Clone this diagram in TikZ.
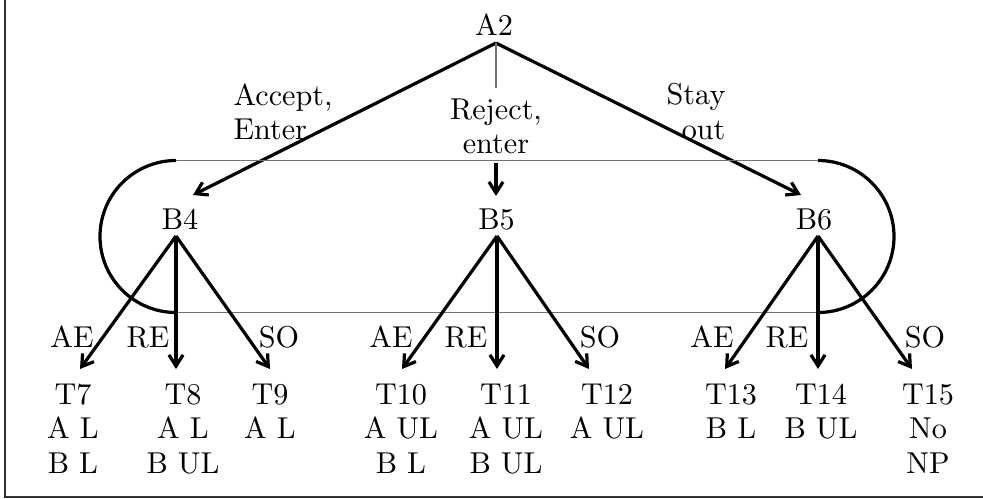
\documentclass[tikz,border=0pt]{standalone}
\usetikzlibrary{arrows.meta}
\begin{document}
\begin{tikzpicture}[x=0.3413pt,y=-0.3413pt,
  lbl/.style={inner sep=0pt, font=\fontsize{10.3}{11.8}\selectfont},
  blk/.style={lbl, align=center, anchor=north},
  arr/.style={line width=1.1pt, -{Straight Barb[length=3.8pt,width=4.8pt,line width=1.1pt]}},
  thin/.style={line width=0.5pt, draw=black!55},
  curve/.style={line width=1.1pt},
  frame/.style={line width=0.6pt, draw=black!80}]
\useasboundingbox (0,0) rectangle (983,499);
% frame
\coordinate (f1) at (5,0);
\coordinate (f2) at (5,497);
\coordinate (f3) at (983,497);
\draw[frame] (f1) -- (f2) -- (f3);
% top
\node[lbl, anchor=base] (a2) at (494,35) {A2};
\coordinate (pa) at (496,43);
\coordinate (pm) at (496,88);
\node[lbl, align=left, anchor=north west] (lac) at (233,83) {Accept,\\Enter};
\node[lbl, align=center, anchor=north] (lre) at (496,98) {Reject,\\enter};
\node[lbl, align=right, anchor=north east] (lso) at (726,83) {Stay\\out};
% B nodes
\node[lbl, anchor=base] (b4) at (180,229) {B4};
\node[lbl, anchor=base] (b5) at (496.5,229) {B5};
\node[lbl, anchor=base] (b6) at (814,229) {B6};
\coordinate (pb4) at (176,236);
\coordinate (pb5) at (497,236);
\coordinate (pb6) at (818,236);
\coordinate (tb4) at (193,195);
\coordinate (tb6) at (801,195);
\coordinate (sb5) at (496,163);
\coordinate (tb5) at (496,196);
\draw[arr] (pa) -- (tb4);
\draw[arr] (pa) -- (tb6);
\draw[thin] (pa) -- (pm);
\draw[arr] (sb5) -- (tb5);
% stadium
\coordinate (sl1) at (176,160.5);
\coordinate (sr1) at (818,160.5);
\coordinate (sl2) at (176,312.5);
\coordinate (sr2) at (818,312.5);
\draw[thin] (sl1) -- (sr1);
\draw[thin] (sl2) -- (sr2);
\draw[curve] (sl1) arc[start angle=270, end angle=90, radius=76];
\draw[curve] (sr1) arc[start angle=-90, end angle=90, radius=76];
% arrow tips to terminals
\coordinate (t7) at (80,369);
\coordinate (t8) at (176,369);
\coordinate (t9) at (270,369);
\coordinate (t10) at (402,369);
\coordinate (t11) at (497,369);
\coordinate (t12) at (589,369);
\coordinate (t13) at (725,369);
\coordinate (t14) at (818,369);
\coordinate (t15) at (912,369);
\foreach \s/\t in {pb4/t7,pb4/t8,pb4/t9,pb5/t10,pb5/t11,pb5/t12,pb6/t13,pb6/t14,pb6/t15}
  \draw[arr] (\s) -- (\t);
% edge labels
\node[lbl, anchor=base] (ae4) at (72,347) {AE};
\node[lbl, anchor=base] (re4) at (148,347) {RE};
\node[lbl, anchor=base] (so4) at (279,347) {SO};
\node[lbl, anchor=base] (ae5) at (391,347) {AE};
\node[lbl, anchor=base] (re5) at (466,347) {RE};
\node[lbl, anchor=base] (so5) at (600,347) {SO};
\node[lbl, anchor=base] (ae6) at (712,347) {AE};
\node[lbl, anchor=base] (re6) at (787,347) {RE};
\node[lbl, anchor=base] (so6) at (925,347) {SO};
% terminals
\node[blk] (T7) at (73,383) {T7\\A L\\B L};
\node[blk] (T8) at (183,383) {T8\\A L\\B UL};
\node[blk] (T9) at (270,383) {T9\\A L};
\node[blk] (T10) at (401,383) {T10\\A UL\\B L};
\node[blk] (T11) at (506,383) {T11\\A UL\\B UL};
\node[blk] (T12) at (607,383) {T12\\A UL};
\node[blk] (T13) at (731,383) {T13\\B L};
\node[blk] (T14) at (821,383) {T14\\B UL};
\node[blk] (T15) at (928,383) {T15\\No\\NP};
\end{tikzpicture}
\end{document}
